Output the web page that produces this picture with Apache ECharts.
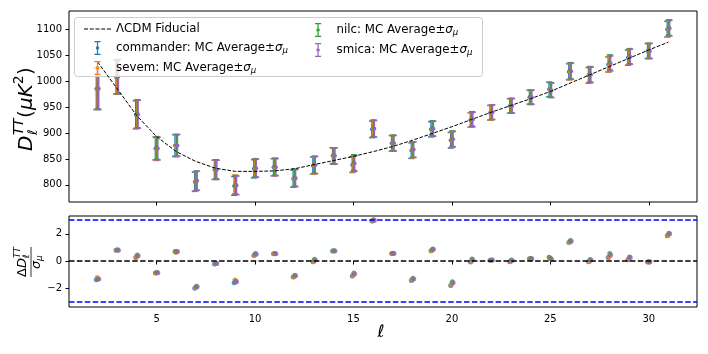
<!DOCTYPE html>
<html>
<head>
<meta charset="utf-8">
<script src="https://cdn.jsdelivr.net/npm/echarts@6/dist/echarts.min.js"></script>
<style>
html, body { margin: 0; padding: 0; background: #fff; }
#chart { width: 708px; height: 354px; }
</style>
</head>
<body>
<div id="chart"></div>
<script>
// multipoles
const ells = [2, 3, 4, 5, 6, 7, 8, 9, 10, 11, 12, 13, 14, 15, 16, 17, 18, 19, 20, 21, 22, 23, 24, 25, 26, 27, 28, 29, 30, 31]

// LCDM fiducial D_l (muK^2)
const fiducial = [1037, 985, 933, 893, 864, 845, 832, 826, 826, 827, 831, 839, 847, 855, 864, 874, 886, 899, 912, 926, 940, 953, 966, 980, 996, 1012, 1028, 1044, 1060, 1075]

// MC averages per map
const commander = [985, 1008, 935, 870, 876, 806, 829, 798, 831, 834, 812, 837, 856, 839, 907, 880, 866, 907, 886, 925, 939, 952, 969, 984, 1018, 1011, 1032, 1045, 1058, 1100]
const sevem = [986, 1008, 936, 869, 875, 807, 829, 801, 832, 834, 813, 837, 855, 840, 908, 880, 867, 908, 887, 925, 939, 952, 968, 983, 1018, 1012, 1032, 1046, 1058, 1101]
const nilc = [986, 1008, 937, 871, 876, 808, 830, 800, 833, 835, 814, 839, 856, 843, 909, 881, 868, 909, 889, 927, 940, 953, 969, 983, 1020, 1013, 1036, 1048, 1058, 1103]
const smica = [985, 1009, 936, 870, 876, 808, 829, 799, 832, 834, 813, 838, 856, 841, 908, 880, 868, 908, 888, 926, 940, 952, 969, 982, 1019, 1012, 1034, 1047, 1058, 1102]

// sigma_mu (error of the MC average)
const sigmaMu = [40, 33, 27, 22, 21, 18.5, 18.5, 18, 17.5, 16.5, 16.5, 16.5, 15.5, 15, 16, 15, 15, 14.5, 15, 14, 14, 14, 13.5, 14, 15.5, 15, 14.5, 14.5, 14.5, 15]

// residuals (D - fid) / sigma_mu
const resCommander = [-1.38, 0.80, 0.25, -0.88, 0.70, -2.00, -0.22, -1.60, 0.40, 0.53, -1.18, -0.05, 0.73, -1.10, 2.94, 0.56, -1.43, 0.76, -1.80, -0.08, 0.05, -0.05, 0.16, 0.28, 1.36, -0.06, 0.25, 0.10, -0.08, 1.85]
const resSevem = [-1.22, 0.80, 0.30, -0.88, 0.63, -1.95, -0.20, -1.40, 0.45, 0.53, -1.15, -0.06, 0.73, -1.05, 2.95, 0.56, -1.40, 0.78, -1.72, -0.03, 0.06, -0.03, 0.16, 0.20, 1.38, -0.03, 0.30, 0.14, -0.07, 1.88]
const resNilc = [-1.33, 0.82, 0.45, -0.85, 0.70, -1.86, -0.17, -1.48, 0.55, 0.55, -1.05, 0.13, 0.75, -0.88, 3.04, 0.57, -1.27, 0.88, -1.52, 0.15, 0.08, 0.07, 0.18, 0.18, 1.50, 0.12, 0.56, 0.30, -0.05, 2.05]
const resSmica = [-1.32, 0.80, 0.38, -0.86, 0.70, -1.90, -0.18, -1.52, 0.50, 0.54, -1.08, 0.08, 0.74, -0.95, 2.98, 0.56, -1.32, 0.86, -1.60, 0.10, 0.07, 0.03, 0.17, 0.12, 1.46, 0.08, 0.45, 0.25, -0.06, 2.00]

const xTicks = [5, 10, 15, 20, 25, 30]
const yTicksTop = [800, 850, 900, 950, 1000, 1050, 1100]
const yTicksBottom = [-2, 0, 2]

const maps = [
	{ name: 'commander: MC Average±σμ', color: '#1f77b4', avg: commander, res: resCommander, shift: -0.06 },
	{ name: 'sevem: MC Average±σμ', color: '#ff7f0e', avg: sevem, res: resSevem, shift: -0.02 },
	{ name: 'nilc: MC Average±σμ', color: '#2ca02c', avg: nilc, res: resNilc, shift: 0.02 },
	{ name: 'smica: MC Average±σμ', color: '#9467bd', avg: smica, res: resSmica, shift: 0.06 }
]
const FID = 'ΛCDM Fiducial'
const FONT = 'DejaVu Sans'
// legend icons: error bar with caps, dashed line
const EB_ICON = 'path://M0,0H7V1.4H0Z M2.8,0H4.2V16H2.8Z M0,14.6H7V16H0Z M3.5,6A2,2 0 1 1 3.5,10A2,2 0 1 1 3.5,6Z'
const DASH_ICON = 'path://M0,0H3.9V1H0Z M5.6,0H9.5V1H5.6Z M11.2,0H15.1V1H11.2Z M16.8,0H20.7V1H16.8Z M22.4,0H26.3V1H22.4Z'

// draw one error bar with caps and a dot
function errorBar(params, api) {
	const x = api.value(0)
	const y = api.value(1)
	const s = api.value(2)
	const c = api.coord([x, y])
	const hi = api.coord([x, y + s])
	const lo = api.coord([x, y - s])
	const color = api.visual('color')
	const cap = 3
	const ls = { stroke: color, lineWidth: 1.5 }
	return {
		type: 'group',
		children: [
			{ type: 'line', shape: { x1: c[0], y1: hi[1], x2: c[0], y2: lo[1] }, style: ls },
			{ type: 'line', shape: { x1: c[0] - cap, y1: hi[1], x2: c[0] + cap, y2: hi[1] }, style: ls },
			{ type: 'line', shape: { x1: c[0] - cap, y1: lo[1], x2: c[0] + cap, y2: lo[1] }, style: ls },
			{ type: 'circle', shape: { cx: c[0], cy: c[1], r: 2 }, style: { fill: color } }
		]
	}
}

const axisCommon = {
	type: 'value',
	axisLine: { show: false },
	splitLine: { show: false },
	axisTick: { length: 3.5, lineStyle: { color: '#000', width: 1 } },
	axisLabel: { color: '#000', fontFamily: FONT, fontSize: 10, formatter: v => String(v).replace('-', '\u2212') }
}

const series = [
	{
		name: FID,
		type: 'line',
		xAxisIndex: 0,
		yAxisIndex: 0,
		symbol: 'none',
		color: '#000',
		lineStyle: { color: '#000', width: 1, type: [3.7, 1.6] },
		data: ells.map((l, i) => [l, fiducial[i]]),
		z: 5
	}
]
maps.forEach(m => {
	series.push({
		name: m.name,
		type: 'custom',
		xAxisIndex: 0,
		yAxisIndex: 0,
		color: m.color,
		renderItem: errorBar,
		encode: { x: 0, y: 1 },
		data: ells.map((l, i) => [l + m.shift, m.avg[i], sigmaMu[i]])
	})
})
maps.forEach(m => {
	series.push({
		name: m.name,
		type: 'scatter',
		xAxisIndex: 1,
		yAxisIndex: 1,
		color: m.color,
		symbolSize: 5,
		data: ells.map((l, i) => [l + m.shift, m.res[i]])
	})
})
// reference lines in the residual panel
series.push({
	type: 'line',
	xAxisIndex: 1,
	yAxisIndex: 1,
	data: [],
	markLine: {
		silent: true,
		symbol: 'none',
		label: { show: false },
		data: [
			{ yAxis: 0, lineStyle: { color: '#000', width: 1.5, type: [5.5, 2.4] } },
			{ yAxis: 3, lineStyle: { color: '#0000ff', width: 1.5, type: [5.5, 2.4] } },
			{ yAxis: -3, lineStyle: { color: '#0000ff', width: 1.5, type: [5.5, 2.4] } }
		]
	}
})

const legendText = {
	color: '#000',
	fontFamily: FONT,
	fontSize: 11.8,
	rich: {
		s: { fontFamily: FONT, fontStyle: 'italic', fontSize: 11.8, color: '#000' },
		u: { fontFamily: FONT, fontStyle: 'italic', fontSize: 8.5, color: '#000', verticalAlign: 'bottom', padding: [5, 0, 0, 0] }
	}
}
const legendFmt = name => name.replace('±σμ', '±{s|σ}{u|μ}')

const option = {
	animation: false,
	textStyle: { fontFamily: FONT },
	grid: [
		{ left: 69, right: 11, top: 11, height: 191, show: true, borderColor: '#000', borderWidth: 1 },
		{ left: 69, right: 11, top: 216, height: 91, show: true, borderColor: '#000', borderWidth: 1 }
	],
	xAxis: [
		Object.assign({}, axisCommon, {
			gridIndex: 0, min: 0.55, max: 32.45,
			axisTick: Object.assign({}, axisCommon.axisTick, { customValues: xTicks }),
			axisLabel: { show: false }
		}),
		Object.assign({}, axisCommon, {
			gridIndex: 1, min: 0.55, max: 32.45,
			axisTick: Object.assign({}, axisCommon.axisTick, { customValues: xTicks }),
			axisLabel: Object.assign({}, axisCommon.axisLabel, { customValues: xTicks, margin: 7 })
		})
	],
	yAxis: [
		Object.assign({}, axisCommon, {
			gridIndex: 0, min: 767, max: 1135,
			axisTick: Object.assign({}, axisCommon.axisTick, { customValues: yTicksTop }),
			axisLabel: Object.assign({}, axisCommon.axisLabel, { customValues: yTicksTop, margin: 7 })
		}),
		Object.assign({}, axisCommon, {
			gridIndex: 1, min: -3.38, max: 3.31,
			axisTick: Object.assign({}, axisCommon.axisTick, { customValues: yTicksBottom }),
			axisLabel: Object.assign({}, axisCommon.axisLabel, { customValues: yTicksBottom, margin: 7 })
		})
	],
	legend: [
		{
			left: 79, top: 18, orient: 'vertical',
			itemWidth: 27, itemHeight: 14, itemGap: 6,
			textStyle: legendText, formatter: legendFmt,
			data: [{ name: FID, icon: DASH_ICON }, { name: maps[0].name, icon: EB_ICON }, { name: maps[1].name, icon: EB_ICON }],
			z: 6
		},
		{
			left: 310, top: 18, orient: 'vertical',
			itemWidth: 27, itemHeight: 14, itemGap: 6,
			textStyle: legendText, formatter: legendFmt,
			data: [{ name: maps[2].name, icon: EB_ICON }, { name: maps[3].name, icon: EB_ICON }],
			z: 6
		}
	],
	graphic: [
		// legend frame
		{
			type: 'rect', left: 74, top: 17, z: 4,
			shape: { width: 408, height: 59, r: 3 },
			style: { fill: 'rgba(255,255,255,0.8)', stroke: '#cccccc', lineWidth: 1 }
		},
		// top y label: D_l^TT (muK^2)
		{
			type: 'group', x: 27, y: 107, rotation: Math.PI / 2,
			children: [
				{ type: 'text', x: -44, y: 0, style: { text: 'D', font: 'italic 20px "DejaVu Sans"', fill: '#000', verticalAlign: 'middle' } },
				{ type: 'text', x: -28, y: 6, style: { text: 'ℓ', font: 'italic 13.5px "DejaVu Sans"', fill: '#000', verticalAlign: 'middle' } },
				{ type: 'text', x: -28, y: -8, style: { text: 'TT', font: 'italic 13.5px "DejaVu Sans"', fill: '#000', verticalAlign: 'middle' } },
				{ type: 'text', x: -11, y: 0, style: { text: '(', font: '20px "DejaVu Sans"', fill: '#000', verticalAlign: 'middle' } },
				{ type: 'text', x: -3, y: 0, style: { text: 'μK', font: 'italic 20px "DejaVu Sans"', fill: '#000', verticalAlign: 'middle' } },
				{ type: 'text', x: 23, y: -8, style: { text: '2', font: '13.5px "DejaVu Sans"', fill: '#000', verticalAlign: 'middle' } },
				{ type: 'text', x: 32, y: 0, style: { text: ')', font: '20px "DejaVu Sans"', fill: '#000', verticalAlign: 'middle' } }
			]
		},
		// bottom y label: Delta D_l^TT / sigma_mu
		{
			type: 'group', x: 30, y: 262, rotation: Math.PI / 2,
			children: [
				{ type: 'text', x: -15, y: -7, style: { text: 'Δ', font: '13px "DejaVu Sans"', fill: '#000', verticalAlign: 'middle' } },
				{ type: 'text', x: -6, y: -7, style: { text: 'D', font: 'italic 13px "DejaVu Sans"', fill: '#000', verticalAlign: 'middle' } },
				{ type: 'text', x: 4, y: -12, style: { text: 'TT', font: 'italic 9px "DejaVu Sans"', fill: '#000', verticalAlign: 'middle' } },
				{ type: 'text', x: 4, y: -3, style: { text: 'ℓ', font: 'italic 9px "DejaVu Sans"', fill: '#000', verticalAlign: 'middle' } },
				{ type: 'line', shape: { x1: -15, y1: 1, x2: 15, y2: 1 }, style: { stroke: '#000', lineWidth: 0.8 } },
				{ type: 'text', x: -7, y: 7, style: { text: 'σ', font: 'italic 13px "DejaVu Sans"', fill: '#000', verticalAlign: 'middle' } },
				{ type: 'text', x: 1, y: 10, style: { text: 'μ', font: 'italic 9px "DejaVu Sans"', fill: '#000', verticalAlign: 'middle' } }
			]
		},
		// x label
		{
			type: 'text', x: 381, y: 333,
			style: { text: 'ℓ', font: 'italic 17px "DejaVu Sans"', fill: '#000', align: 'center', verticalAlign: 'middle' }
		}
	],
	series: series
}

const myChart = echarts.init(document.getElementById('chart'))
myChart.setOption(option)
</script>
</body>
</html>
